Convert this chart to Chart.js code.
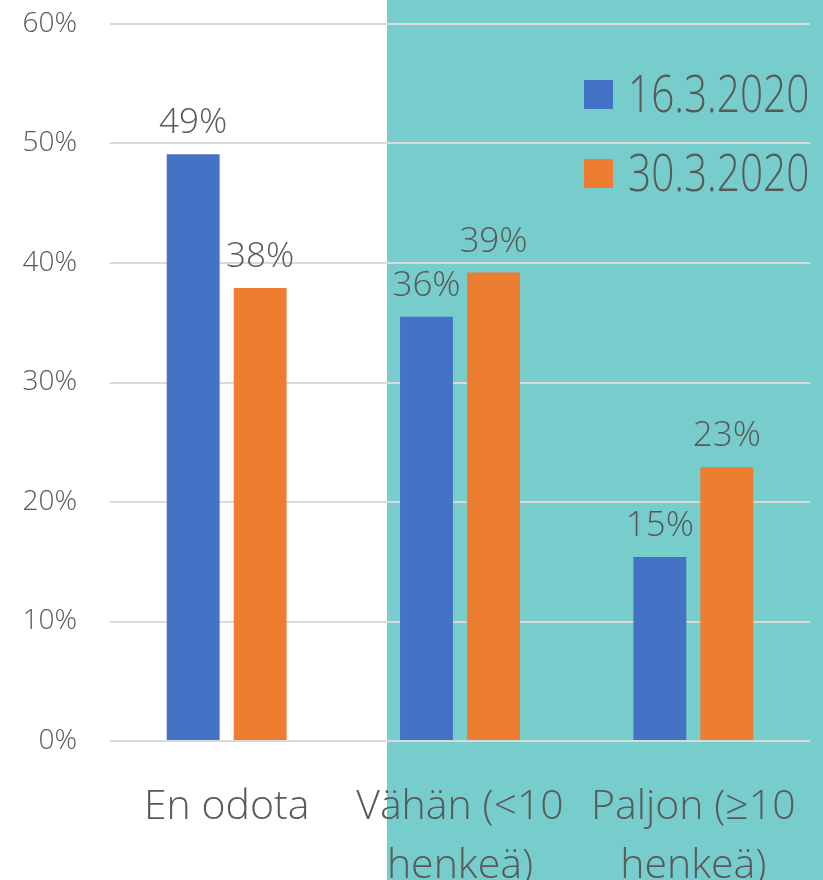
<!DOCTYPE html>
<html lang="fi">
<head>
<meta charset="utf-8">
<title>Odotukset</title>
<script src="https://cdn.jsdelivr.net/npm/chart.js@4/dist/chart.umd.min.js"></script>
<style>
  html, body { margin: 0; padding: 0; }
  #wrap {
    width: 823px;
    height: 880px;
    position: relative;
    background: linear-gradient(to right, #ffffff 387px, #77cdcc 387px);
  }
</style>
</head>
<body>
<div id="wrap"><canvas id="barChart"></canvas></div>
<script>
// data
const categories = [["En odota"], ["Vähän (<10", "henkeä)"], ["Paljon (≥10", "henkeä)"]];
const seriesNames = ["16.3.2020", "30.3.2020"];
const values_16_3 = [49.1, 35.5, 15.4];
const values_30_3 = [37.9, 39.2, 22.9];
const yTickValues = [0, 10, 20, 30, 40, 50, 60];

const BLUE = "#4472C4";
const ORANGE = "#ED7D31";
const TEXT = "#595959";
const FONT = "'Open Sans', sans-serif";

Chart.defaults.font.family = FONT;
Chart.defaults.color = TEXT;

// value labels above the bars
const valueLabels = {
    id: "valueLabels",
    afterDatasetsDraw(chart) {
        const ctx = chart.ctx;
        ctx.save();
        ctx.font = `300 35px ${FONT}`;
        ctx.fillStyle = TEXT;
        ctx.textAlign = "center";
        ctx.textBaseline = "alphabetic";
        chart.data.datasets.forEach((ds, i) => {
            chart.getDatasetMeta(i).data.forEach((bar, j) => {
                ctx.fillText(Math.round(ds.data[j]) + "%", bar.x, bar.y - 21);
            });
        });
        ctx.restore();
    }
};

// category labels under the plot, first lines aligned
const categoryLabels = {
    id: "categoryLabels",
    afterDraw(chart) {
        const ctx = chart.ctx;
        const xScale = chart.scales.x;
        const area = chart.chartArea;
        ctx.save();
        ctx.font = `300 41px ${FONT}`;
        ctx.fillStyle = TEXT;
        ctx.textAlign = "center";
        ctx.textBaseline = "alphabetic";
        categories.forEach((lines, i) => {
            const cx = xScale.getPixelForValue(i);
            lines.forEach((line, k) => {
                ctx.fillText(line, cx, area.bottom + 78 + k * 59);
            });
        });
        ctx.restore();
    }
};

// legend in the top right corner
const cornerLegend = {
    id: "cornerLegend",
    afterDraw(chart) {
        const ctx = chart.ctx;
        const area = chart.chartArea;
        const left = area.right - 226;
        ctx.save();
        ctx.font = `300 52px ${FONT}`;
        ctx.textBaseline = "alphabetic";
        ctx.textAlign = "left";
        chart.data.datasets.forEach((ds, i) => {
            const top = 80 + i * 79;
            ctx.fillStyle = ds.backgroundColor;
            ctx.fillRect(left, top, 29, 29);
            ctx.fillStyle = TEXT;
            ctx.save();
            ctx.translate(left + 44, top + 32);
            ctx.scale(0.78, 1);
            ctx.fillText(ds.label, 0, 0);
            ctx.restore();
        });
        ctx.restore();
    }
};

const ctxBar = document.getElementById("barChart").getContext("2d");
new Chart(ctxBar, {
    type: "bar",
    data: {
        labels: categories,
        datasets: [
            {
                label: seriesNames[0],
                data: values_16_3,
                backgroundColor: BLUE,
                categoryPercentage: 0.574,
                barPercentage: 0.79
            },
            {
                label: seriesNames[1],
                data: values_30_3,
                backgroundColor: ORANGE,
                categoryPercentage: 0.574,
                barPercentage: 0.79
            }
        ]
    },
    options: {
        responsive: true,
        maintainAspectRatio: false,
        animation: false,
        layout: { padding: { top: 0, right: 13, bottom: 139, left: 0 } },
        plugins: {
            legend: { display: false },
            tooltip: { enabled: false }
        },
        scales: {
            x: { display: false },
            y: {
                min: 0,
                max: 60,
                afterFit: (scale) => {
                    scale.width = 110;
                    scale.paddingTop = 24;
                    scale.paddingBottom = 0;
                },
                afterBuildTicks: (scale) => { scale.ticks = yTickValues.map(v => ({ value: v })); },
                border: { display: false },
                grid: { color: "#d9d9d9", lineWidth: 2, drawTicks: false },
                ticks: {
                    padding: 33,
                    color: TEXT,
                    font: { size: 28, weight: 300 },
                    callback: (v) => v + "%"
                }
            }
        }
    },
    plugins: [valueLabels, categoryLabels, cornerLegend]
});
</script>
</body>
</html>
